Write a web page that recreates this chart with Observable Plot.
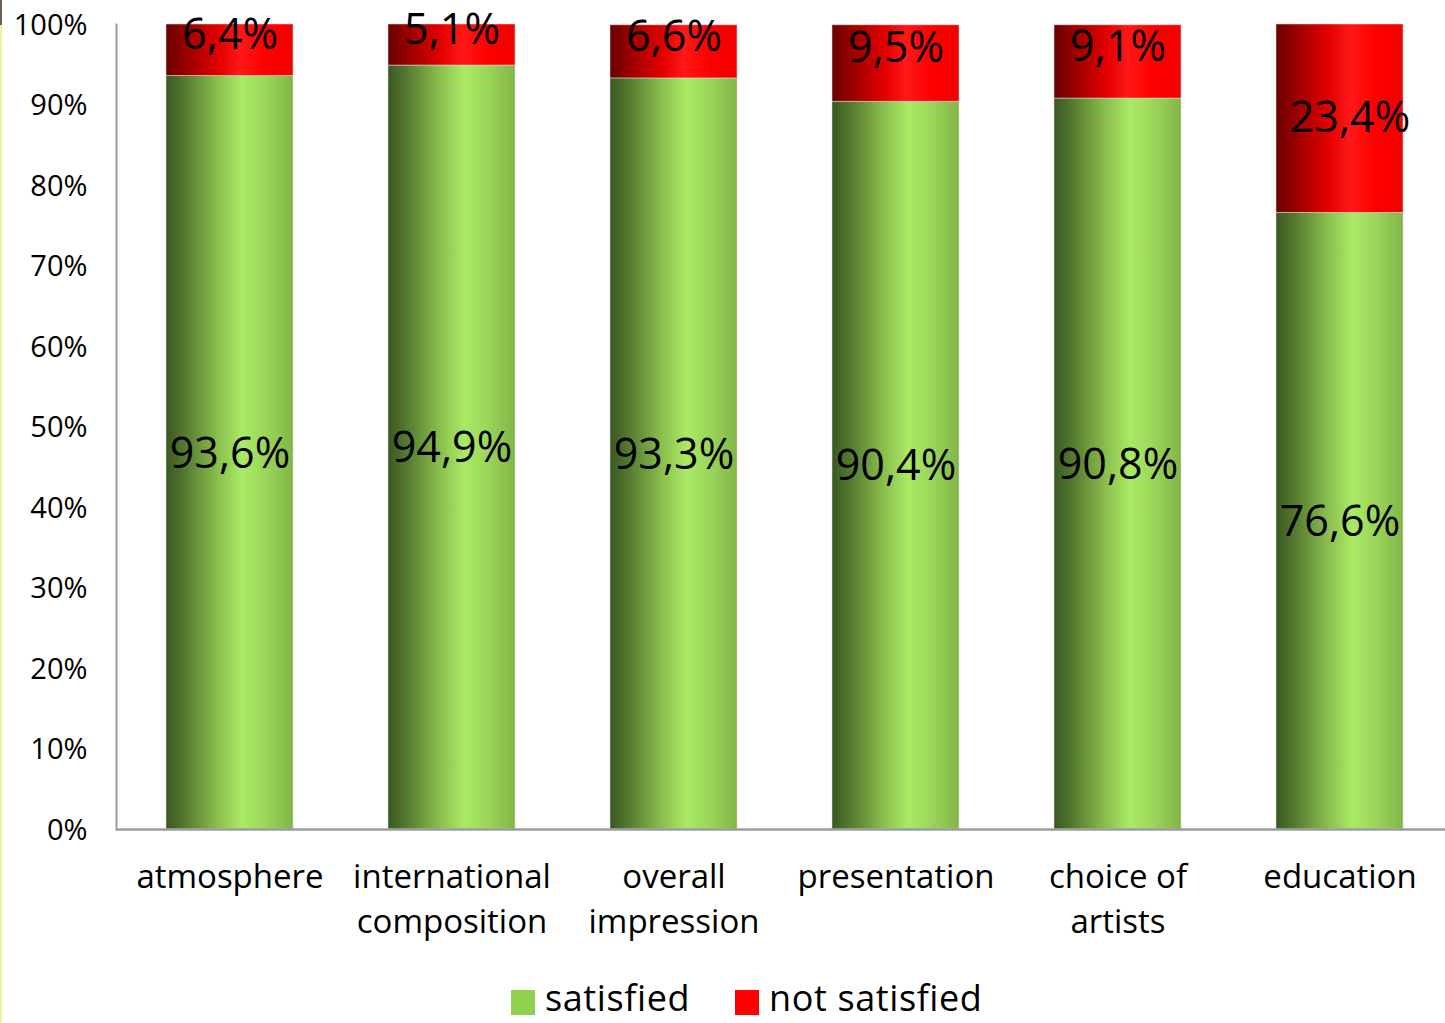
<!DOCTYPE html>
<html>
<head>
<meta charset="utf-8">
<script src="https://cdn.jsdelivr.net/npm/d3@7"></script>
<script src="https://cdn.jsdelivr.net/npm/@observablehq/plot@0.6"></script>
<style>
  html, body { margin: 0; padding: 0; background: #fff; overflow: hidden; }
  body { position: relative; width: 1445px; height: 1023px; font-family: "Open Sans", sans-serif; color: #000; }
  #edge { position: absolute; left: 0; top: 0; width: 2px; height: 1023px; background: #f2f2a4; }
  #edge::before { content: ""; position: absolute; left: 0; top: 0; width: 2px; height: 25px; background: #6e5f52; }
  #legend { display: flex; align-items: center; height: 34px; padding-top: 21px; padding-left: 511px;
            font-size: 36px; letter-spacing: 0.6px; line-height: 34px; white-space: nowrap; }
  #legend .sw { width: 24px; height: 25px; margin-right: 10px; flex: none; position: relative; top: 4px; }
  #legend .item { display: flex; align-items: center; margin-right: 45px; }
</style>
</head>
<body>
<div id="edge"></div>
<div id="chart"></div>
<div id="legend"></div>
<script>
// Satisfaction per festival aspect, in percent
const categories = ["atmosphere", "international\ncomposition", "overall\nimpression", "presentation", "choice of\nartists", "education"];
const satisfied = [93.6, 94.9, 93.3, 90.4, 90.8, 76.6];
const notSatisfied = [6.4, 5.1, 6.6, 9.5, 9.1, 23.4];
const statuses = ["satisfied", "not satisfied"];
const yTicks = [0, 10, 20, 30, 40, 50, 60, 70, 80, 90, 100];

const swatchColors = { "satisfied": "#92d050", "not satisfied": "#ff0000" };

const rows = categories.flatMap((c, i) => [
  { category: c, status: "satisfied", value: satisfied[i] },
  { category: c, status: "not satisfied", value: notSatisfied[i] }
]);

const fmt = v => v.toFixed(1).replace(".", ",") + "%";

// labels of thin red segments overflow the segment, so they sit a bit higher
const isSmallRed = d => d.status === "not satisfied" && d.value < 15;
const isLargeRed = d => d.status === "not satisfied" && d.value >= 15;

const stackOpts = { x: "category", y: "value", z: "status", order: statuses };

const chart = Plot.plot({
  width: 1445,
  height: 960,
  marginLeft: 116,
  marginRight: -7,
  marginTop: 24,
  marginBottom: 131,
  style: { fontFamily: "Open Sans, sans-serif", color: "#000", background: "#fff", overflow: "visible" },
  x: { domain: categories, paddingInner: 0.43, paddingOuter: 0.215, label: null },
  y: { domain: [0, 100], label: null },
  color: { domain: statuses, range: ["url(#gradSatisfied)", "url(#gradNotSatisfied)"] },
  marks: [
    Plot.barY(rows, { x: "category", y: "value", fill: "status", order: statuses,
                      stroke: "#d9d9d9", strokeWidth: 0.8, strokeOpacity: 0.7 }),
    Plot.text(rows, Plot.stackY({ ...stackOpts,
      text: d => d.status === "satisfied" ? fmt(d.value) : null, fontSize: 43, fill: "#000", dy: 1 })),
    Plot.text(rows, Plot.stackY({ ...stackOpts,
      text: d => isSmallRed(d) ? fmt(d.value) : null, fontSize: 43, fill: "#000", dy: -15 })),
    Plot.text(rows, Plot.stackY({ ...stackOpts,
      text: d => isLargeRed(d) ? fmt(d.value) : null, fontSize: 43, fill: "#000", dx: 10 })),
    Plot.axisY({ ticks: yTicks, tickFormat: d => d + "%", tickSize: 0, tickPadding: 29, fontSize: 29, label: null, dy: 1 }),
    Plot.axisX({ tickSize: 0, tickPadding: 27, fontSize: 33, lineHeight: 1.36, label: null }),
    Plot.frame({ anchor: "left", stroke: "#9c9c9c", strokeWidth: 2 }),
    Plot.ruleY([0], { stroke: "#9c9c9c", strokeWidth: 2.5 })
  ]
});

// horizontal shading of the bars
const defs = d3.select(chart).insert("defs", ":first-child");
function gradient(id, stops) {
  const g = defs.append("linearGradient").attr("id", id)
    .attr("x1", "0%").attr("x2", "100%").attr("y1", "0%").attr("y2", "0%");
  stops.forEach(([o, c]) => g.append("stop").attr("offset", o).attr("stop-color", c));
}
gradient("gradSatisfied", [
  ["0%", "#3a5822"], ["15%", "#567a30"], ["40%", "#89bc4d"],
  ["60%", "#aaea65"], ["78%", "#9bd65a"], ["100%", "#82b547"]
]);
gradient("gradNotSatisfied", [
  ["0%", "#6a0000"], ["18%", "#a00000"], ["42%", "#e40000"],
  ["58%", "#ff1818"], ["78%", "#ff0000"], ["100%", "#f20000"]
]);

document.getElementById("chart").appendChild(chart);

// legend below the chart
const legend = d3.select("#legend");
statuses.forEach(s => {
  const item = legend.append("div").attr("class", "item");
  item.append("div").attr("class", "sw").style("background", swatchColors[s]);
  item.append("span").text(s);
});
</script>
</body>
</html>
